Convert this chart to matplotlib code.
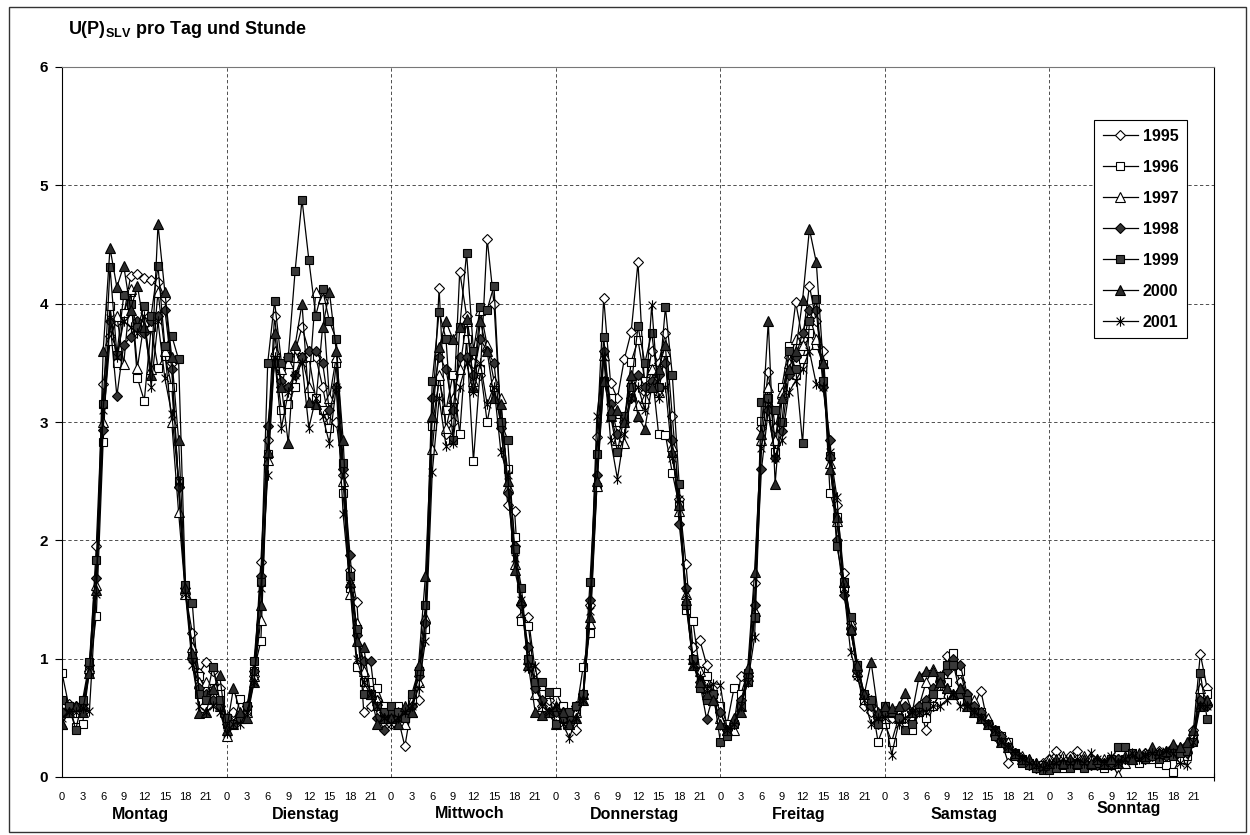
import numpy as np
import matplotlib
matplotlib.use("Agg")
from matplotlib import pyplot as plt
from matplotlib.path import Path
from matplotlib.patches import Rectangle

plt.rcParams['font.family'] = ['Liberation Sans', 'DejaVu Sans']
plt.rcParams['mathtext.fontset'] = 'custom'
plt.rcParams['mathtext.bf'] = 'Liberation Sans:bold'
plt.rcParams['mathtext.rm'] = 'Liberation Sans'

days = ['Montag', 'Dienstag', 'Mittwoch', 'Donnerstag', 'Freitag', 'Samstag', 'Sonntag']
hour_labels = ['0', '3', '6', '9', '12', '15', '18', '21']
years = ['1995', '1996', '1997', '1998', '1999', '2000', '2001']

# one row of 24 hourly values per weekday (Mo..So)
y1995 = [
    0.60, 0.62, 0.58, 0.62, 0.90, 1.95, 3.32, 3.73, 3.85, 3.90, 4.23, 4.25, 4.22, 4.20, 4.18, 4.05, 3.50, 2.45, 1.55, 1.22, 0.88, 0.97, 0.90, 0.75,
    0.50, 0.55, 0.50, 0.60, 0.85, 1.82, 2.85, 3.90, 3.30, 3.55, 3.60, 3.80, 3.60, 3.55, 3.30, 3.00, 3.00, 2.55, 1.75, 1.48, 0.55, 0.60, 0.65, 0.55,
    0.45, 0.50, 0.26, 0.60, 0.65, 1.30, 3.00, 4.13, 2.90, 3.00, 4.27, 3.90, 3.50, 3.40, 4.55, 4.00, 3.00, 2.30, 2.25, 1.35, 1.35, 0.90, 0.60, 0.65,
    0.50, 0.55, 0.45, 0.40, 0.70, 1.45, 2.87, 4.05, 3.33, 3.20, 3.53, 3.76, 4.35, 3.25, 3.60, 3.50, 3.75, 3.05, 2.35, 1.80, 1.10, 1.16, 0.95, 0.70,
    0.55, 0.40, 0.45, 0.85, 0.85, 1.64, 2.95, 3.42, 2.95, 3.20, 3.55, 4.01, 3.70, 4.15, 3.85, 3.60, 2.70, 2.30, 1.72, 1.30, 0.85, 0.60, 0.55, 0.45,
    0.55, 0.50, 0.55, 0.50, 0.55, 0.60, 0.40, 0.60, 0.70, 1.02, 0.95, 0.80, 0.70, 0.60, 0.73, 0.45, 0.35, 0.30, 0.12, 0.20, 0.15, 0.12, 0.10, 0.12,
    0.15, 0.22, 0.15, 0.18, 0.22, 0.15, 0.12, 0.14, 0.12, 0.10, 0.15, 0.14, 0.18, 0.15, 0.20, 0.18, 0.22, 0.20, 0.25, 0.22, 0.25, 0.40, 1.04, 0.75,
]
y1996 = [
    0.88, 0.60, 0.42, 0.45, 0.90, 1.36, 2.83, 3.98, 3.50, 3.92, 4.10, 3.37, 3.18, 3.80, 3.46, 3.56, 3.30, 2.50, 1.60, 1.05, 0.85, 0.75, 0.75, 0.70,
    0.45, 0.45, 0.66, 0.55, 0.90, 1.15, 2.73, 3.55, 3.10, 3.15, 3.30, 3.55, 3.55, 3.20, 3.10, 2.95, 3.50, 2.40, 1.60, 0.93, 0.80, 0.80, 0.75, 0.60,
    0.55, 0.60, 0.50, 0.65, 0.90, 1.25, 2.97, 3.35, 3.10, 3.40, 2.90, 3.70, 2.67, 3.45, 3.00, 3.30, 2.98, 2.60, 2.03, 1.32, 1.28, 0.80, 0.70, 0.70,
    0.72, 0.60, 0.50, 0.55, 0.93, 1.22, 2.45, 3.35, 3.20, 3.00, 3.00, 3.51, 3.69, 3.35, 3.45, 2.90, 2.89, 2.57, 2.30, 1.41, 1.32, 0.90, 0.85, 0.70,
    0.60, 0.45, 0.75, 0.70, 0.88, 1.34, 3.01, 3.05, 2.75, 3.30, 3.64, 3.40, 3.53, 3.75, 3.65, 3.49, 2.40, 2.20, 1.60, 1.23, 0.95, 0.65, 0.65, 0.30,
    0.45, 0.30, 0.50, 0.55, 0.40, 0.55, 0.50, 0.60, 0.70, 0.80, 1.05, 0.90, 0.65, 0.55, 0.55, 0.45, 0.40, 0.35, 0.30, 0.20, 0.15, 0.12, 0.08, 0.10,
    0.10, 0.12, 0.08, 0.10, 0.12, 0.10, 0.10, 0.10, 0.08, 0.10, 0.12, 0.15, 0.18, 0.12, 0.15, 0.15, 0.12, 0.10, 0.04, 0.15, 0.18, 0.35, 0.70, 0.70,
]
y1997 = [
    0.45, 0.55, 0.55, 0.60, 0.92, 1.62, 3.00, 3.69, 3.90, 3.49, 4.12, 3.46, 3.85, 3.45, 4.10, 3.60, 3.00, 2.24, 1.55, 1.10, 0.80, 0.80, 0.70, 0.60,
    0.35, 0.45, 0.50, 0.55, 0.85, 1.33, 2.68, 3.60, 3.45, 3.50, 3.55, 3.55, 3.30, 4.10, 4.05, 3.20, 3.55, 2.50, 1.55, 1.30, 0.90, 0.70, 0.65, 0.50,
    0.50, 0.55, 0.45, 0.55, 0.80, 1.35, 2.77, 3.40, 2.95, 3.20, 3.45, 3.85, 3.35, 3.95, 3.65, 3.35, 3.20, 2.45, 1.80, 1.50, 1.00, 0.70, 0.60, 0.55,
    0.45, 0.50, 0.45, 0.55, 0.70, 1.30, 2.46, 3.57, 3.05, 2.85, 2.82, 3.35, 3.14, 3.20, 3.45, 3.25, 3.60, 2.80, 2.25, 1.55, 1.00, 0.90, 0.75, 0.65,
    0.50, 0.40, 0.40, 0.60, 0.85, 1.40, 2.85, 3.30, 2.85, 3.25, 3.50, 3.70, 3.65, 3.90, 3.70, 3.50, 2.65, 2.16, 1.65, 1.30, 0.90, 0.70, 0.65, 0.50,
    0.50, 0.55, 0.50, 0.55, 0.50, 0.60, 0.80, 0.91, 0.85, 0.75, 0.70, 0.75, 0.65, 0.65, 0.55, 0.50, 0.40, 0.35, 0.30, 0.20, 0.18, 0.15, 0.12, 0.10,
    0.15, 0.12, 0.18, 0.15, 0.12, 0.18, 0.15, 0.12, 0.15, 0.12, 0.02, 0.12, 0.15, 0.18, 0.20, 0.22, 0.20, 0.22, 0.20, 0.25, 0.25, 0.35, 0.75, 0.65,
]
y1998 = [
    0.55, 0.58, 0.60, 0.58, 0.95, 1.68, 2.93, 3.85, 3.22, 3.65, 3.72, 3.85, 3.75, 3.85, 3.90, 3.95, 3.45, 2.45, 1.60, 1.00, 0.75, 0.70, 0.65, 0.60,
    0.45, 0.45, 0.50, 0.60, 0.90, 1.70, 2.97, 3.50, 3.35, 3.30, 3.40, 3.55, 3.60, 3.60, 3.50, 3.10, 3.30, 2.60, 1.88, 1.20, 0.98, 0.98, 0.50, 0.40,
    0.55, 0.50, 0.55, 0.60, 0.85, 1.30, 3.20, 3.55, 3.45, 3.10, 3.55, 3.55, 3.40, 3.70, 3.60, 3.50, 2.95, 2.40, 1.95, 1.45, 1.10, 0.75, 0.65, 0.55,
    0.55, 0.55, 0.50, 0.60, 0.70, 1.50, 2.55, 3.60, 3.15, 2.90, 3.00, 3.20, 3.40, 3.30, 3.35, 3.40, 3.50, 2.85, 2.14, 1.60, 1.00, 0.80, 0.49, 0.70,
    0.55, 0.40, 0.45, 0.65, 0.85, 1.45, 2.60, 3.10, 2.70, 2.92, 3.40, 3.55, 3.75, 3.95, 3.95, 3.30, 2.85, 2.00, 1.54, 1.25, 0.90, 0.70, 0.60, 0.50,
    0.55, 0.55, 0.50, 0.60, 0.55, 0.60, 0.65, 0.75, 0.80, 0.90, 1.00, 0.95, 0.70, 0.60, 0.55, 0.45, 0.40, 0.35, 0.25, 0.20, 0.15, 0.10, 0.08, 0.08,
    0.08, 0.10, 0.12, 0.10, 0.12, 0.12, 0.10, 0.10, 0.12, 0.12, 0.15, 0.15, 0.15, 0.18, 0.15, 0.18, 0.20, 0.18, 0.20, 0.22, 0.20, 0.30, 0.65, 0.60,
]
y1999 = [
    0.65, 0.60, 0.40, 0.65, 0.97, 1.83, 3.15, 4.31, 3.57, 4.07, 4.00, 3.80, 3.98, 3.90, 4.32, 3.64, 3.73, 3.53, 1.62, 1.47, 0.70, 0.65, 0.93, 0.65,
    0.50, 0.45, 0.50, 0.60, 0.98, 1.65, 3.50, 4.02, 3.50, 3.55, 4.28, 4.88, 4.37, 3.90, 4.12, 3.85, 3.70, 2.65, 1.70, 1.25, 0.70, 0.70, 0.60, 0.55,
    0.60, 0.55, 0.50, 0.70, 0.90, 1.45, 3.35, 3.93, 3.70, 2.85, 3.80, 4.43, 3.60, 3.97, 3.95, 4.15, 3.00, 2.85, 1.93, 1.60, 1.00, 0.80, 0.80, 0.72,
    0.45, 0.50, 0.55, 0.60, 0.70, 1.65, 2.73, 3.72, 3.05, 2.75, 3.05, 3.30, 3.81, 3.50, 3.75, 3.30, 3.97, 3.40, 2.48, 1.45, 1.00, 0.75, 0.65, 0.70,
    0.30, 0.35, 0.45, 0.60, 0.80, 1.35, 3.17, 3.20, 3.10, 3.00, 3.60, 3.45, 2.82, 3.85, 4.04, 3.35, 2.71, 1.95, 1.65, 1.35, 0.95, 0.70, 0.65, 0.45,
    0.60, 0.55, 0.50, 0.40, 0.45, 0.55, 0.60, 0.70, 0.85, 0.95, 0.95, 0.70, 0.65, 0.55, 0.50, 0.45, 0.35, 0.30, 0.25, 0.18, 0.12, 0.10, 0.08, 0.06,
    0.06, 0.08, 0.10, 0.08, 0.10, 0.08, 0.10, 0.12, 0.10, 0.15, 0.25, 0.25, 0.20, 0.18, 0.15, 0.18, 0.15, 0.20, 0.18, 0.20, 0.22, 0.30, 0.88, 0.49,
]
y2000 = [
    0.45, 0.55, 0.60, 0.55, 0.88, 1.58, 3.60, 4.47, 4.14, 4.32, 3.95, 4.15, 3.80, 3.40, 4.67, 4.10, 3.55, 2.85, 1.60, 1.05, 0.54, 0.55, 0.74, 0.86,
    0.40, 0.75, 0.55, 0.50, 0.80, 1.45, 2.75, 3.75, 3.30, 2.82, 3.65, 4.00, 3.17, 3.15, 3.80, 4.10, 3.60, 2.85, 1.65, 1.15, 1.10, 0.70, 0.45, 0.50,
    0.50, 0.45, 0.60, 0.55, 0.95, 1.70, 3.05, 3.63, 3.85, 3.70, 3.80, 3.87, 3.30, 3.85, 3.60, 3.20, 3.15, 2.50, 1.75, 1.50, 0.95, 0.55, 0.52, 0.55,
    0.60, 0.55, 0.45, 0.50, 0.65, 1.35, 2.50, 3.35, 3.10, 3.10, 3.00, 3.40, 3.05, 2.94, 3.30, 3.45, 3.65, 2.75, 2.30, 1.50, 0.95, 0.80, 0.70, 0.65,
    0.45, 0.40, 0.50, 0.55, 0.92, 1.73, 2.90, 3.85, 2.48, 3.20, 3.45, 3.60, 4.03, 4.63, 4.35, 3.50, 2.60, 2.20, 1.65, 1.25, 0.95, 0.70, 0.97, 0.55,
    0.60, 0.58, 0.60, 0.71, 0.55, 0.85, 0.90, 0.90, 0.80, 0.75, 0.70, 0.75, 0.60, 0.55, 0.50, 0.45, 0.40, 0.30, 0.25, 0.20, 0.15, 0.15, 0.12, 0.10,
    0.12, 0.15, 0.12, 0.15, 0.12, 0.15, 0.12, 0.15, 0.12, 0.15, 0.12, 0.18, 0.15, 0.20, 0.18, 0.25, 0.20, 0.22, 0.28, 0.25, 0.30, 0.40, 0.60, 0.65,
]
y2001 = [
    0.50, 0.55, 0.55, 0.58, 0.56, 1.55, 3.10, 3.88, 3.55, 3.85, 3.80, 3.75, 3.90, 3.30, 3.85, 3.37, 3.07, 2.50, 1.55, 0.95, 0.60, 0.55, 0.60, 0.55,
    0.37, 0.45, 0.45, 0.55, 0.80, 1.60, 2.55, 3.55, 2.95, 3.25, 3.40, 3.50, 2.95, 3.20, 3.05, 2.82, 3.30, 2.22, 1.62, 1.00, 0.80, 0.70, 0.60, 0.50,
    0.45, 0.50, 0.55, 0.60, 0.75, 1.15, 2.58, 3.20, 2.80, 2.82, 3.30, 3.50, 3.25, 3.50, 3.15, 3.30, 2.75, 2.55, 1.85, 1.50, 0.92, 0.94, 0.60, 0.55,
    0.60, 0.45, 0.33, 0.50, 0.65, 1.40, 3.05, 3.55, 2.85, 2.52, 2.90, 3.20, 3.30, 3.10, 3.99, 3.20, 3.30, 2.70, 2.35, 1.55, 0.95, 0.85, 0.75, 0.79,
    0.78, 0.40, 0.45, 0.60, 0.80, 1.18, 2.78, 3.15, 2.70, 2.85, 3.25, 3.35, 3.45, 3.60, 3.32, 3.30, 2.75, 2.37, 1.60, 1.06, 0.85, 0.65, 0.45, 0.50,
    0.50, 0.19, 0.45, 0.50, 0.55, 0.55, 0.55, 0.60, 0.60, 0.65, 0.70, 0.60, 0.60, 0.55, 0.50, 0.45, 0.40, 0.30, 0.25, 0.20, 0.15, 0.12, 0.10, 0.08,
    0.10, 0.12, 0.15, 0.12, 0.15, 0.12, 0.20, 0.15, 0.12, 0.18, 0.12, 0.15, 0.20, 0.15, 0.18, 0.20, 0.18, 0.22, 0.20, 0.12, 0.10, 0.30, 0.60, 0.60,
]
series = [y1995, y1996, y1997, y1998, y1999, y2000, y2001]

# Excel style asterisk: vertical bar plus an X
star = Path([(0, -1), (0, 1), (-0.75, -0.75), (0.75, 0.75), (-0.75, 0.75), (0.75, -0.75)],
            [Path.MOVETO, Path.LINETO, Path.MOVETO, Path.LINETO, Path.MOVETO, Path.LINETO])
styles = [
    ('D', 'white', 5.5),
    ('s', 'white', 6.0),
    ('^', 'white', 6.5),
    ('D', '#333333', 5.5),
    ('s', '#3a3a3a', 6.0),
    ('^', '#2a2a2a', 6.5),
    (star, 'black', 7.5),
]

W, H = 1250, 835
fig = plt.figure(figsize=(W / 100, H / 100), dpi=100)
ax = fig.add_axes([62 / W, 1 - 777 / H, (1214 - 62) / W, (777 - 67) / H])

n = 24 * len(days)
x = np.arange(n)
for vals, name, (m, fc, ms) in zip(series, years, styles):
    ax.plot(x, vals, color='black', lw=0.9, marker=m, markersize=ms,
            markerfacecolor=fc, markeredgecolor='black', markeredgewidth=0.8,
            label=name)

ax.set_xlim(0, n - 1)
ax.set_ylim(0, 6)

# y axis
ax.set_yticks(range(7))
ax.set_yticklabels([str(v) for v in range(7)], fontsize=11, fontweight='bold')
ax.tick_params(axis='y', direction='out', length=5, width=0.8, pad=5)
for v in range(1, 6):
    ax.axhline(v, color='#333333', lw=0.6, ls=(0, (4, 3)), zorder=0)

# x axis: hour labels, tick marks only at day boundaries
hour_ticks = [d * 24 + int(h) for d in range(len(days)) for h in hour_labels]
ax.set_xticks(hour_ticks)
ax.set_xticklabels(hour_labels * len(days), fontsize=8)
ax.tick_params(axis='x', which='major', length=0, pad=11)
ax.set_xticks([d * 24 for d in range(len(days) + 1)], minor=True)
ax.tick_params(axis='x', which='minor', direction='inout', length=6, width=0.8)
for d in range(1, len(days)):
    ax.axvline(d * 24, color='#333333', lw=0.6, ls=(0, (4, 3)), zorder=0)

for d, name in enumerate(days):
    off = -32 if name == 'Sonntag' else -37
    ax.annotate(name, xy=(d * 24 + 11.5, 0), xycoords=('data', 'axes fraction'),
                xytext=(0, off), textcoords='offset pixels', ha='center', va='center',
                fontsize=11.5, fontweight='bold')

for s in ax.spines.values():
    s.set_linewidth(0.8)
ax.spines['top'].set_color('#777777')

leg = ax.legend(loc='upper left', bbox_to_anchor=(1094 / W, 1 - 120 / H),
                bbox_transform=fig.transFigure, frameon=True, fancybox=False,
                edgecolor='black', framealpha=1, numpoints=1,
                prop={'weight': 'bold', 'size': 11.5}, labelspacing=1.0,
                handlelength=2.2, handletextpad=0.3, borderpad=0.55,
                borderaxespad=0)
leg.get_frame().set_linewidth(0.8)

fig.text(68 / W, 1 - 30 / H, r'U(P)$_\mathbf{SLV}$ pro Tag und Stunde',
         fontsize=13, fontweight='bold', ha='left', va='center')

fig.add_artist(Rectangle((9 / W, 3 / H), (1246 - 9) / W, (828 - 3) / H,
                         transform=fig.transFigure, fill=False, lw=1.0, ec='#333333'))

fig.savefig('out.png', dpi=100)
